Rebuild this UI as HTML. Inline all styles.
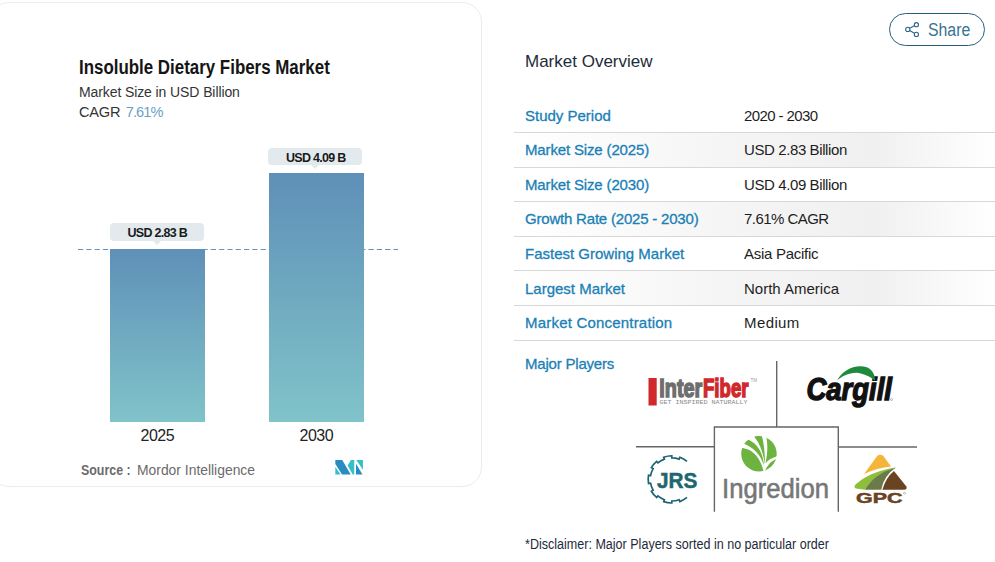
<!DOCTYPE html>
<html><head><meta charset="utf-8">
<style>
html,body{margin:0;padding:0;background:#fff;width:995px;height:562px;overflow:hidden;position:relative;font-family:"Liberation Sans",sans-serif;}
.t{position:absolute;white-space:nowrap;line-height:1;}
.card{position:absolute;left:-11px;top:2px;width:493px;height:485px;border:1px solid #ececec;border-radius:20px;box-sizing:border-box;}
.bar{position:absolute;background:linear-gradient(180deg,#5f90b8 0%,#80c3c9 100%);}
.lbl{position:absolute;background:#e3eaee;border-radius:4px;}
.lbl:after{content:"";position:absolute;left:50%;bottom:-4px;margin-left:-4px;border-left:4px solid transparent;border-right:4px solid transparent;border-top:4px solid #e3eaee;}
.row{position:absolute;left:514px;width:481px;height:34px;background:linear-gradient(90deg,#fff 0%,#f6f6f6 40%,#f0f0f0 75%,#fff 100%);}
.line{position:absolute;left:514px;width:481px;height:1px;background:#d8d8d8;}
.k{color:#1a80b6;font-size:15px;-webkit-text-stroke:0.3px #1a80b6;}
.v{color:#1e1e1e;font-size:15px;}
</style></head><body>
<div class="card"></div>
<div class="t" style="left:79px;top:57px;font-size:20px;font-weight:bold;color:#151515;transform:scaleX(0.845);transform-origin:0 0;">Insoluble Dietary Fibers Market</div>
<div class="t" style="left:79px;top:84.5px;font-size:14px;color:#333;letter-spacing:-0.1px;">Market Size in USD Billion</div>
<div class="t" style="left:79px;top:105px;font-size:14.6px;color:#333;letter-spacing:-0.2px;">CAGR <span style="color:#6a9fc9;margin-left:1.5px;letter-spacing:-0.9px;">7.61%</span></div>

<svg style="position:absolute;left:0;top:0" width="995" height="562"><line x1="78" y1="249.5" x2="398" y2="249.5" stroke="#6393c4" stroke-width="1.1" stroke-dasharray="5.2,3.1"/></svg>
<div class="bar" style="left:110px;top:249px;width:95px;height:173px;background:linear-gradient(180deg,#5f90b8 0%,#80c3c9 100%);"></div>
<div class="bar" style="left:269px;top:173px;width:95px;height:249px;"></div>

<div class="lbl" style="left:110px;top:223px;width:94px;height:18px;"></div>
<div class="lbl" style="left:267.5px;top:148px;width:94px;height:17px;"></div>
<div class="t" style="left:127.5px;top:226.5px;font-size:12.5px;font-weight:bold;color:#1a1a1a;letter-spacing:-0.7px;">USD 2.83 B</div>
<div class="t" style="left:286px;top:151.5px;font-size:12.5px;font-weight:bold;color:#1a1a1a;letter-spacing:-0.7px;">USD 4.09 B</div>
<div class="t" style="left:140.5px;top:427.9px;font-size:16px;letter-spacing:-0.5px;color:#222;">2025</div>
<div class="t" style="left:299.5px;top:427.9px;font-size:16px;letter-spacing:-0.5px;color:#222;">2030</div>
<div class="t" style="left:81px;top:462.7px;font-size:14.5px;color:#6b6b6b;font-weight:bold;transform:scaleX(0.855);transform-origin:0 0;">Source :</div>
<div class="t" style="left:136.5px;top:462.7px;font-size:14.5px;color:#6b6b6b;transform:scaleX(0.957);transform-origin:0 0;">Mordor Intelligence</div>

<!-- share -->
<div style="position:absolute;left:889px;top:13px;width:96px;height:33px;box-sizing:border-box;border:1px solid #24607f;border-radius:17px;"></div>
<div class="t" style="left:928.3px;top:20.6px;font-size:18px;color:#3a7393;transform:scaleX(0.88);transform-origin:0 0;">Share</div>
<svg style="position:absolute;left:900px;top:18px" width="24" height="24" viewBox="0 0 24 24"><g fill="none" stroke="#2a6688" stroke-width="1.1"><circle cx="16.4" cy="6.7" r="2.1"/><circle cx="7.8" cy="11.4" r="2.1"/><circle cx="16.4" cy="16.4" r="2.1"/><line x1="9.7" y1="10.2" x2="14.4" y2="7.7"/><line x1="9.7" y1="12.5" x2="14.4" y2="15.3"/></g></svg>

<div class="t" style="left:525px;top:53px;font-size:17px;color:#1d2b3a;">Market Overview</div>

<div class="row" style="top:133px"></div>
<div class="row" style="top:202px"></div>
<div class="row" style="top:271px"></div>
<div class="line" style="top:132px"></div>
<div class="line" style="top:167px"></div>
<div class="line" style="top:201px"></div>
<div class="line" style="top:236px"></div>
<div class="line" style="top:270px"></div>
<div class="line" style="top:305px"></div>
<div class="line" style="top:340px"></div>

<div class="t k" style="left:525px;top:108px;">Study Period</div>
<div class="t v" style="left:744px;top:108px;letter-spacing:-0.6px;">2020 - 2030</div>
<div class="t k" style="left:525px;top:142px;letter-spacing:-0.15px;">Market Size (2025)</div>
<div class="t v" style="left:744px;top:142px;letter-spacing:-0.4px;">USD 2.83 Billion</div>
<div class="t k" style="left:525px;top:177px;letter-spacing:-0.15px;">Market Size (2030)</div>
<div class="t v" style="left:744px;top:177px;letter-spacing:-0.4px;">USD 4.09 Billion</div>
<div class="t k" style="left:525px;top:211px;letter-spacing:-0.2px;">Growth Rate (2025 - 2030)</div>
<div class="t v" style="left:744px;top:211px;letter-spacing:-0.55px;">7.61% CAGR</div>
<div class="t k" style="left:525px;top:246px;">Fastest Growing Market</div>
<div class="t v" style="left:744px;top:246px;letter-spacing:-0.27px;">Asia Pacific</div>
<div class="t k" style="left:525px;top:281px;">Largest Market</div>
<div class="t v" style="left:744px;top:281px;">North America</div>
<div class="t k" style="left:525px;top:315px;letter-spacing:0.2px;">Market Concentration</div>
<div class="t v" style="left:744px;top:315px;letter-spacing:0.4px;">Medium</div>

<div class="t k" style="left:525px;top:356px;letter-spacing:-0.2px;">Major Players</div>

<div class="t" style="left:525px;top:537px;font-size:14px;color:#1d2b3a;transform:scaleX(0.896);transform-origin:0 0;">*Disclaimer: Major Players sorted in no particular order</div>

<svg style="position:absolute;left:0;top:0" width="995" height="562" viewBox="0 0 995 562">
 <defs><clipPath id="ic"><circle cx="300" cy="285" r="232"/></clipPath></defs>
 <g stroke="#666" stroke-width="1.4" fill="none">
  <line x1="776.7" y1="361" x2="776.7" y2="427"/>
  <polyline points="714.4,511.7 714.4,427 838.3,427 838.3,511.7"/>
  <line x1="636" y1="446.8" x2="714.4" y2="446.8"/>
  <line x1="838.3" y1="447" x2="917" y2="447"/>
 </g>
 <!-- InterFiber -->
 <rect x="648.5" y="378" width="8.2" height="27.5" fill="#d0282b"/>
 <text x="659.3" y="396.8" font-family="Liberation Sans" font-weight="bold" font-size="26" fill="#6e6e6e" stroke="#6e6e6e" stroke-width="1.5" textLength="43" lengthAdjust="spacingAndGlyphs">Inter</text>
 <text x="703" y="396.8" font-family="Liberation Sans" font-weight="bold" font-size="26" fill="#d0282b" stroke="#d0282b" stroke-width="1.5" textLength="45.5" lengthAdjust="spacingAndGlyphs">Fiber</text>
 <text x="750.5" y="381.5" font-family="Liberation Sans" font-size="4.5" fill="#999">TM</text>
 <text x="659.5" y="404.2" font-family="Liberation Mono" font-size="6.2" fill="#8a8a8a" textLength="88" lengthAdjust="spacingAndGlyphs">GET INSPIRED NATURALLY</text>
 <!-- Cargill -->
 <text x="806.5" y="399.7" font-family="Liberation Sans" font-weight="bold" font-style="italic" font-size="32" fill="#111" stroke="#111" stroke-width="1.4" textLength="85.5" lengthAdjust="spacingAndGlyphs">Cargill</text>
 <g transform="translate(795,355) scale(0.11056)"><path d="M380,230 C430,140 540,80 650,110 C700,130 725,180 725,232 C680,195 620,165 555,160 C480,160 420,195 380,230 Z" fill="#1e8a3c"/></g>
 <!-- JRS -->
 <g transform="translate(640,450) scale(0.0979)"><path d="M480,116 A241,241 0 0 0 407,74 L400,93 A221,221 0 0 0 325,80 L325,59 A241,241 0 0 0 242,74 L249,93 A221,221 0 0 0 183,131 L170,116 A241,241 0 0 0 116,180 L134,190 A221,221 0 0 0 108,262 L87,258 A241,241 0 0 0 87,342 L108,339 A221,221 0 0 0 134,411 L116,421 A241,241 0 0 0 170,485 L183,469 A221,221 0 0 0 249,508 L242,527 A241,241 0 0 0 325,541 L325,521 A221,221 0 0 0 400,508 L407,527 A241,241 0 0 0 480,485" fill="none" stroke="#1d6470" stroke-width="17"/></g>
 <text x="657" y="487.7" font-family="Liberation Sans" font-weight="bold" font-size="22.4" fill="#1f6770" stroke="#1f6770" stroke-width="0.5" textLength="40.5" lengthAdjust="spacingAndGlyphs">JRS</text>
 <!-- Ingredion -->
 <g transform="translate(736,432) scale(0.07653)">
  <g clip-path="url(#ic)" fill="#6cb33f">
   <path d="M0,205 C150,200 300,260 360,520 L0,600 Z"/>
   <path d="M0,130 L150,95 C280,150 350,260 368,440 C320,300 230,170 0,125 Z"/>
   <path d="M230,0 L325,0 C360,120 380,250 378,420 C350,250 310,150 230,50 Z"/>
   <path d="M395,0 L600,0 L600,300 C500,320 420,360 384,410 C410,300 420,180 395,60 Z"/>
   <path d="M600,330 C500,350 420,400 378,510 L600,600 Z"/>
  </g>
 </g>
 <text x="722" y="498" font-family="Liberation Sans" font-size="27.5" fill="#777" stroke="#777" stroke-width="0.6" textLength="107" lengthAdjust="spacingAndGlyphs">Ingredion</text>
 <!-- GPC -->
 <g transform="translate(845,450) scale(0.0979)">
  <path d="M330,60 Q360,35 390,60 L470,168 Q330,180 195,245 Z" fill="#f5b43a"/>
  <path d="M525,175 Q250,220 110,350 Q85,380 110,392 L205,405 Q290,250 525,175 Z" fill="#8dbf3a"/>
  <path d="M520,180 Q300,240 205,405 L370,405 Q400,260 520,180 Z" fill="#6b7a4a"/>
  <path d="M500,215 Q420,280 382,405 L610,405 Q640,400 625,370 Z" fill="#6a4322"/>
 </g>
 <text x="856" y="502.9" font-family="Liberation Sans" font-weight="bold" font-size="15" fill="#6a4322" stroke="#6a4322" stroke-width="0.5" textLength="46.5" lengthAdjust="spacingAndGlyphs">GPC</text>
 <!-- MI logo -->
 <g transform="translate(330,455) scale(0.04449)">
  <path d="M120,110 L275,110 L465,440 L270,440 L120,200 Z" fill="#2a8bc0"/>
  <path d="M120,270 L240,440 L120,440 Z" fill="#35c0c8"/>
  <path d="M470,110 L545,110 L545,440 L510,440 L395,235 Z" fill="#35c0c8"/>
  <path d="M590,110 L740,110 L740,330 Z" fill="#35c0c8"/>
  <path d="M585,195 L730,440 L585,440 Z" fill="#2a8bc0"/>
 </g>
 <circle cx="891.5" cy="399.5" r="1" fill="none" stroke="#555" stroke-width="0.4"/>
 <circle cx="904.5" cy="493.2" r="1" fill="none" stroke="#8a6a50" stroke-width="0.4"/>
</svg>
</body></html>
